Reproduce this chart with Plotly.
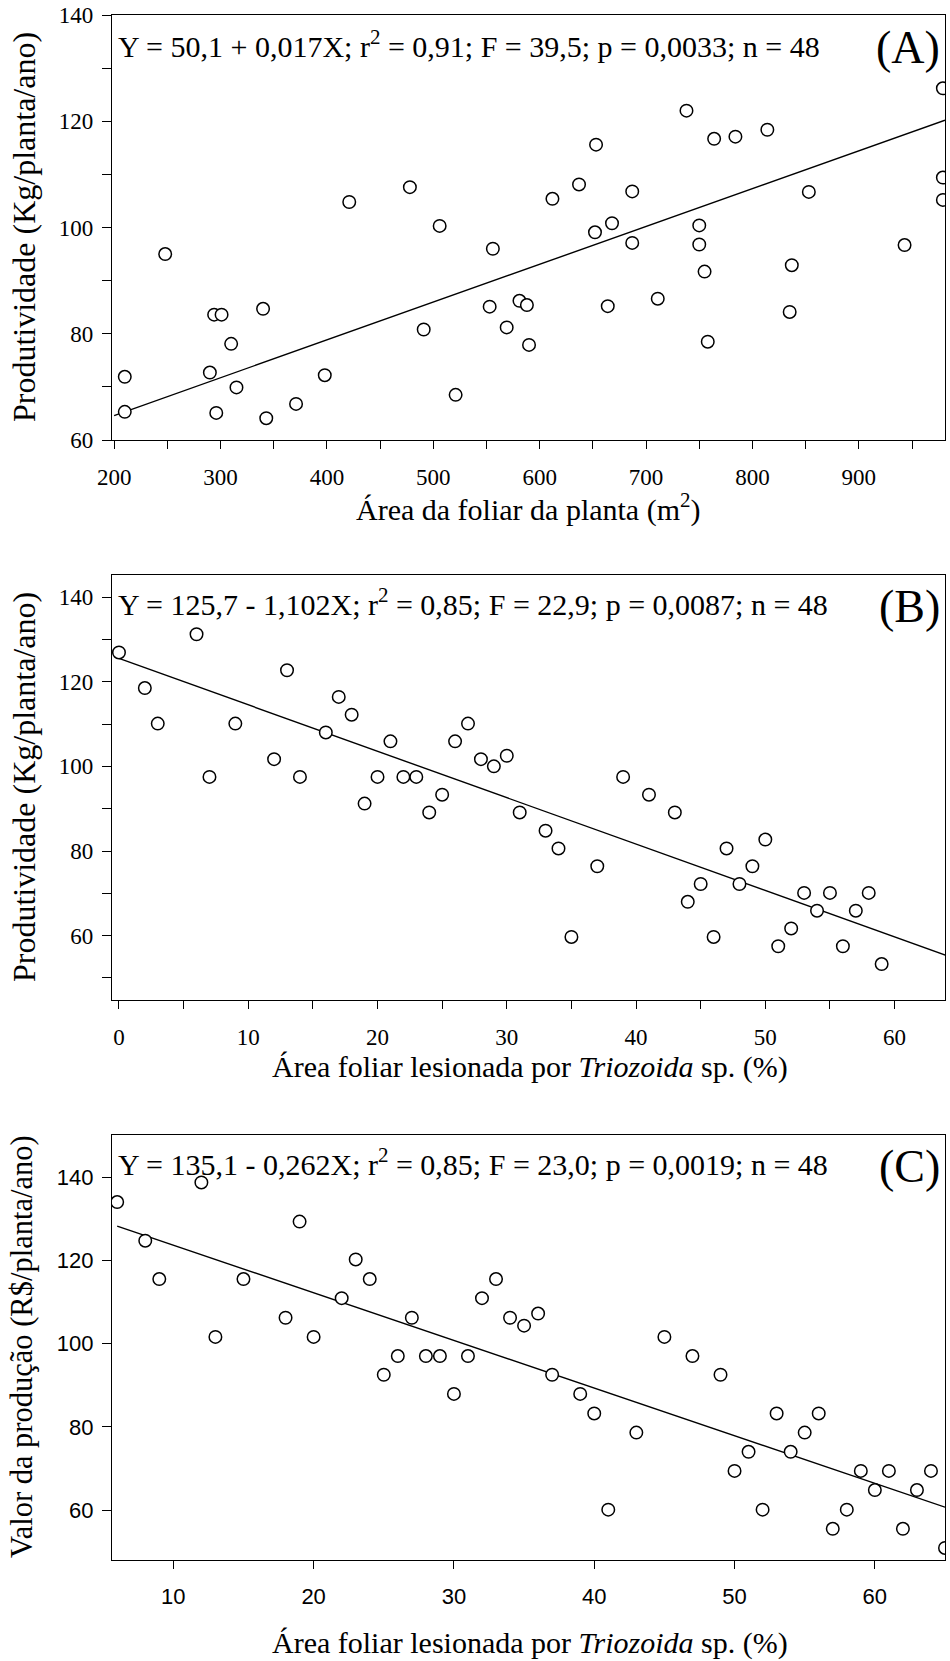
import plotly.graph_objects as go

# ---------------- Panel A data ----------------
a_x = [210, 210, 248, 290, 294, 301, 296, 310, 315, 340, 343, 371, 398, 421, 478, 491,
       506, 521, 553, 556, 569, 581, 588, 590, 612, 637, 653, 652, 668, 664, 687, 687,
       711, 738, 750, 750, 755, 758, 764, 784, 814, 837, 835, 853, 943, 979, 979, 979]
a_y = [71.9, 65.3, 95.0, 72.7, 83.6, 83.6, 65.1, 78.1, 69.9, 84.7, 64.1, 66.8, 72.2, 104.8, 107.6, 80.8,
       100.3, 68.5, 85.1, 96.0, 81.2, 86.2, 85.4, 77.9, 105.4, 108.1, 115.6, 99.1, 100.8, 85.2, 106.8, 97.1,
       86.6, 122.0, 100.4, 96.8, 91.7, 78.5, 116.7, 117.1, 118.4, 92.9, 84.1, 106.7, 96.7, 126.2, 109.4, 105.2]
a_fit_x = [200, 981]
a_fit_y = [64.6, 120.2]

# ---------------- Panel B data ----------------
b_x = [0, 2, 3, 6, 7, 9, 12, 13, 14, 16, 17, 18, 19, 20, 21, 22, 23, 24, 25, 26, 27, 28, 29, 30,
       31, 33, 34, 35, 37, 39, 41, 43, 44, 45, 46, 47, 48, 49, 50, 51, 52, 53, 54, 55, 56, 57, 58, 59]
b_y = [126.9, 118.5, 110.1, 131.2, 97.5, 110.1, 101.7, 122.7, 97.5, 108.0, 116.4, 112.2, 91.2, 97.5,
       105.9, 97.5, 97.5, 89.1, 93.3, 105.9, 110.1, 101.7, 100.0, 102.5, 89.1, 84.8, 80.6, 59.7, 76.4,
       97.5, 93.3, 89.1, 68.0, 72.2, 59.7, 80.6, 72.2, 76.4, 82.7, 57.5, 61.7, 70.1, 65.9, 70.1, 57.5,
       65.9, 70.1, 53.3]
b_fit_x = [0, 64]
b_fit_y = [125.5, 55.3]

# ---------------- Panel C data ----------------
c_x = [6, 8, 9, 12, 13, 15, 18, 19, 20, 22, 23, 24, 25, 26, 27, 28, 29, 30, 31, 32, 33, 34, 35, 36,
       37, 39, 40, 41, 43, 45, 47, 49, 50, 51, 52, 53, 54, 55, 56, 57, 58, 59, 60, 61, 62, 63, 64, 65]
c_y = [134.0, 124.7, 115.5, 138.7, 101.6, 115.5, 106.2, 129.3, 101.6, 110.9, 120.2, 115.5, 92.5, 97.0,
       106.2, 97.0, 97.0, 87.9, 97.0, 110.9, 115.5, 106.2, 104.3, 107.2, 92.5, 87.9, 83.2, 60.1, 78.6,
       101.6, 97.0, 92.5, 69.4, 74.0, 60.1, 83.2, 74.0, 78.6, 83.2, 55.5, 60.1, 69.4, 64.8, 69.4, 55.5,
       64.8, 69.4, 50.9]
c_fit_x = [6, 65]
c_fit_y = [128.2, 60.7]

# ---------------- texts ----------------
eq_a = "Y = 50,1 + 0,017X; r<sup>2</sup> = 0,91; F = 39,5; p = 0,0033; n = 48"
eq_b = "Y = 125,7 - 1,102X; r<sup>2</sup> = 0,85; F = 22,9; p = 0,0087; n = 48"
eq_c = "Y = 135,1 - 0,262X; r<sup>2</sup> = 0,85; F = 23,0; p = 0,0019; n = 48"
ytitle_ab = "Produtividade (Kg/planta/ano)"
ytitle_c = "Valor da produção (R$/planta/ano)"
xtitle_a = "Área da foliar da planta (m<sup>2</sup>)"
xtitle_bc = "Área foliar lesionada por <i>Triozoida</i> sp. (%)"

a_ytick = [60, 70, 80, 90, 100, 110, 120, 130, 140]
a_ylab = ["60", "", "80", "", "100", "", "120", "", "140"]
a_xtick = [200, 250, 300, 350, 400, 450, 500, 550, 600, 650, 700, 750, 800, 850, 900, 950]
a_xlab = ["200", "", "300", "", "400", "", "500", "", "600", "", "700", "", "800", "", "900", ""]
b_ytick = [50, 60, 70, 80, 90, 100, 110, 120, 130, 140]
b_ylab = ["", "60", "", "80", "", "100", "", "120", "", "140"]
b_xtick = [0, 5, 10, 15, 20, 25, 30, 35, 40, 45, 50, 55, 60]
b_xlab = ["0", "", "10", "", "20", "", "30", "", "40", "", "50", "", "60"]
c_ytick = [60, 80, 100, 120, 140]
c_xtick = [10, 20, 30, 40, 50, 60]

W, H = 950, 1661
def px(x):
    return x / W
def py(y):
    return 1 - y / H

SERIF = "Liberation Serif, Times New Roman, serif"
SANS = "Liberation Sans, Arial, sans-serif"

fig = go.Figure()

panels = [
    (a_x, a_y, a_fit_x, a_fit_y, "x", "y"),
    (b_x, b_y, b_fit_x, b_fit_y, "x2", "y2"),
    (c_x, c_y, c_fit_x, c_fit_y, "x3", "y3"),
]
for xs, ys, fx, fy, xa, ya in panels:
    fig.add_trace(go.Scatter(x=fx, y=fy, mode="lines", line=dict(color="black", width=1.4),
                             xaxis=xa, yaxis=ya, showlegend=False, hoverinfo="skip"))
    fig.add_trace(go.Scatter(x=xs, y=ys, mode="markers",
                             marker=dict(symbol="circle", size=12.5, color="white",
                                         line=dict(color="black", width=1.5)),
                             xaxis=xa, yaxis=ya, showlegend=False))

xdom = [px(112), px(945)]
common = dict(showline=True, linecolor="black", linewidth=1.3, mirror=True, ticks="outside",
              tickcolor="black", tickwidth=1.3, showgrid=False, zeroline=False, automargin=False)

fig.update_layout(
    template="none",
    width=W, height=H, margin=dict(l=0, r=0, t=0, b=0, autoexpand=False),
    paper_bgcolor="white", plot_bgcolor="white",
    xaxis=dict(domain=xdom, range=[198, 981], tickvals=a_xtick, ticktext=a_xlab, ticklen=8,
               anchor="y", tickfont=dict(family=SERIF, size=23, color="black"),
               ticklabelstandoff=8, **common),
    yaxis=dict(domain=[py(440), py(15)], range=[60, 140], tickvals=a_ytick, ticktext=a_ylab,
               ticklen=9, anchor="x", tickfont=dict(family=SERIF, size=23, color="black"),
               ticklabelstandoff=4, **common),
    xaxis2=dict(domain=xdom, range=[-0.54, 63.9], tickvals=b_xtick, ticktext=b_xlab, ticklen=8,
                anchor="y2", tickfont=dict(family=SERIF, size=23, color="black"),
                ticklabelstandoff=8, **common),
    yaxis2=dict(domain=[py(1000), py(575)], range=[44.8, 145.2], tickvals=b_ytick, ticktext=b_ylab,
                ticklen=9, anchor="x2", tickfont=dict(family=SERIF, size=23, color="black"),
                ticklabelstandoff=4, **common),
    xaxis3=dict(domain=xdom, range=[5.63, 65.0], tickvals=c_xtick, ticklen=8,
                anchor="y3", tickfont=dict(family=SANS, size=22, color="black"),
                ticklabelstandoff=8, **common),
    yaxis3=dict(domain=[py(1560), py(1135)], range=[48.0, 150.1], tickvals=c_ytick,
                ticklen=9, anchor="x3", tickfont=dict(family=SANS, size=22, color="black"),
                ticklabelstandoff=4, **common),
)

ann = []
def text(x, y, t, size, xanchor="center", angle=0, family=SERIF):
    ann.append(dict(x=px(x), y=py(y), xref="paper", yref="paper", text=t, showarrow=False,
                    xanchor=xanchor, yanchor="middle", textangle=angle,
                    font=dict(family=family, size=size, color="black")))

# equations
text(116, 44, eq_a, 30, xanchor="left")
text(116, 602, eq_b, 30, xanchor="left")
text(116, 1162, eq_c, 30, xanchor="left")
# panel letters
text(942, 48, "(A)", 46, xanchor="right")
text(942, 606, "(B)", 46, xanchor="right")
text(942, 1166, "(C)", 46, xanchor="right")
# axis titles
text(528, 508, xtitle_a, 30)
text(530, 1067, xtitle_bc, 30)
text(530, 1643, xtitle_bc, 30)
text(24, 227, ytitle_ab, 32, angle=-90)
text(24, 787, ytitle_ab, 32, angle=-90)
text(22, 1347, ytitle_c, 30.5, angle=-90)

fig.update_layout(annotations=ann)
fig.write_html(
    "out.html",
    config={"displayModeBar": False},
    post_script="document.body.style.margin='0';document.body.style.overflow='hidden';",
)
